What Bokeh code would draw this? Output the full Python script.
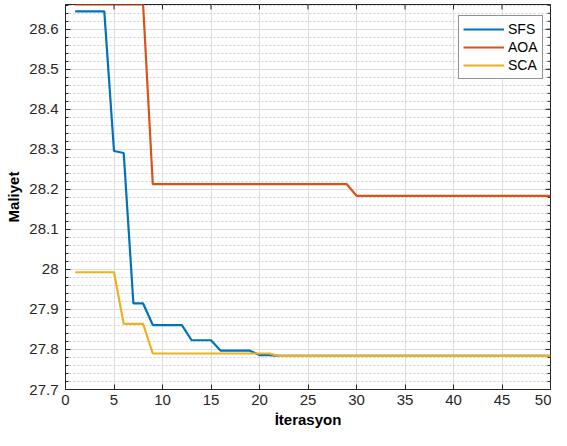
import math
from bokeh.plotting import figure
from bokeh.models import FixedTicker, Range1d, CustomJSTickFormatter
from bokeh.embed import file_html
from bokeh.resources import INLINE

# ---- data ----
iterations = list(range(1, 51))
sfs = ([28.645] * 4 + [28.296, 28.291] + [27.915] * 2 + [27.861] * 4 +
       [27.823] * 3 + [27.797] * 4 + [27.786] * 2 + [27.784] * 29)
aoa = [28.662] * 8 + [28.213] * 21 + [28.184] * 21
sca = [27.993] * 5 + [27.864] * 3 + [27.790] * 13 + [27.784] * 29
series_names = ["SFS", "AOA", "SCA"]
series_colors = ["#0072BD", "#D95319", "#EDB120"]

x_ticks = [0, 5, 10, 15, 20, 25, 30, 35, 40, 45, 50]
y_ticks = [27.7, 27.8, 27.9, 28.0, 28.1, 28.2, 28.3, 28.4, 28.5, 28.6]
y_minor = [round(27.7 + 0.02 * i, 2) for i in range(49)]
X_MIN, X_MAX = 0, 50
Y_MIN, Y_MAX = 27.7, 28.662

FONT = "Liberation Sans"
TXT = "#262626"

p = figure(width=551, height=430, x_range=Range1d(X_MIN, X_MAX), y_range=Range1d(Y_MIN, Y_MAX),
           output_backend="svg", toolbar_location=None,
           min_border_left=65, min_border_right=1, min_border_top=4, min_border_bottom=38)
p.outline_line_color = TXT
p.outline_line_width = 1
p.background_fill_color = "white"

xt = FixedTicker(ticks=x_ticks, minor_ticks=[])
yt = FixedTicker(ticks=y_ticks, minor_ticks=y_minor)
fmt = CustomJSTickFormatter(code="return String(parseFloat(tick.toFixed(2)));")

for ax in p.xaxis:
    ax.ticker = xt
for ax in p.yaxis:
    ax.ticker = yt
    ax.formatter = fmt

for ax in list(p.xaxis) + list(p.yaxis):
    ax.axis_line_color = TXT
    ax.major_tick_line_color = TXT
    ax.minor_tick_line_color = TXT
    ax.major_tick_in = 5
    ax.major_tick_out = 0
    ax.minor_tick_in = 3
    ax.minor_tick_out = 0
    ax.major_label_text_font = FONT
    ax.major_label_text_font_size = "15px"
    ax.major_label_text_color = TXT
    ax.axis_label_text_font = FONT
    ax.axis_label_text_font_size = "15px"
    ax.axis_label_text_font_style = "bold"
    ax.axis_label_text_color = "#000000"

p.xaxis.axis_label = "İterasyon"
p.yaxis.axis_label = "Maliyet"
p.xaxis.major_label_standoff = 5
p.xaxis.axis_label_standoff = 3
p.yaxis.major_label_standoff = 7
p.yaxis.axis_label_standoff = 4

# grids
p.xgrid.ticker = xt
p.ygrid.ticker = yt
p.xgrid.grid_line_color = "#dedede"
p.ygrid.grid_line_color = "#dedede"
p.ygrid.minor_grid_line_color = "#d0d0d0"
p.ygrid.minor_grid_line_dash = "2 2"

for vals, name, col in zip([sfs, aoa, sca], series_names, series_colors):
    p.line(iterations, vals, line_color=col, line_width=2.2, legend_label=name)

# box ticks on top and right edges (inward, clipped to frame)
p.scatter(x=[X_MAX] * len(y_ticks), y=y_ticks, marker="dash", size=10, line_color=TXT, line_width=1)
p.scatter(x=[X_MAX] * len(y_minor), y=y_minor, marker="dash", size=6, line_color=TXT, line_width=1)
p.scatter(x=x_ticks, y=[Y_MAX] * len(x_ticks), marker="dash", angle=math.pi / 2, size=10,
          line_color=TXT, line_width=1)

lg = p.legend[0]
lg.location = (393, 310)
lg.margin = 0
lg.padding = 4
lg.spacing = 0
lg.glyph_width = 41
lg.glyph_height = 18
lg.label_height = 18
lg.label_standoff = 4
lg.label_text_font = FONT
lg.label_text_font_size = "14px"
lg.label_text_color = "#000000"
lg.border_line_color = TXT
lg.border_line_width = 1
lg.background_fill_alpha = 1

open("out.html", "w").write(file_html(p, INLINE))
